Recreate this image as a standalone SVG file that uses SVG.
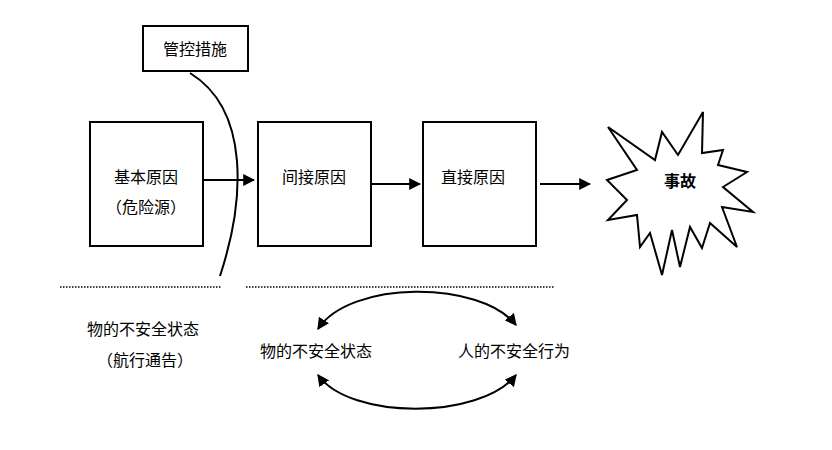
<svg xmlns="http://www.w3.org/2000/svg" width="832" height="450" viewBox="0 0 832 450">
<style>
text{font-family:"Liberation Sans","Noto Sans CJK SC",sans-serif;font-size:16px;fill:#000}
.b{fill:#fff;stroke:#000;stroke-width:2}
.l{fill:none;stroke:#000;stroke-width:2}
.d{fill:none;stroke:#000;stroke-width:1.5;stroke-dasharray:1.5 1.5}
</style>
<defs><marker id="a" viewBox="0 0 10 10" refX="9" refY="5" markerWidth="6" markerHeight="6" orient="auto-start-reverse"><path d="M0,0L10,5L0,10z"/></marker></defs>
<rect width="832" height="450" fill="#fff"/>
<g id="n1"><rect class="b" x="143" y="26" width="105" height="45"/><text x="195" y="55" text-anchor="middle">管控措施</text></g>
<g id="n2"><rect class="b" x="90" y="122" width="113" height="124"/><text x="146" y="183" text-anchor="middle">基本原因</text><text x="146" y="213" text-anchor="middle">（危险源）</text></g>
<g id="n3"><rect class="b" x="258" y="122" width="113" height="124"/><text x="314" y="183" text-anchor="middle">间接原因</text></g>
<g id="n4"><rect class="b" x="423" y="122" width="113" height="124"/><text x="473" y="183" text-anchor="middle">直接原因</text></g>
<g id="n5"><polygon class="b" points="608,127 655,160 662,132 678,155 703,112 702,153 723,150 718,165 747,172 723,187 753,212 722,207 737,247 710,223 702,248 690,227 680,267 672,230 662,275 650,233 640,247 637,215 608,220 627,200 607,180 637,170"/><text x="680" y="187" text-anchor="middle" font-weight="bold" font-size="20">事故</text></g>
<g id="labels">
<text x="143" y="335" text-anchor="middle">物的不安全状态</text>
<text x="145" y="366" text-anchor="middle">（航行通告）</text>
<text x="316" y="357" text-anchor="middle">物的不安全状态</text>
<text x="514" y="357" text-anchor="middle">人的不安全行为</text>
</g>
<g id="connectors">
<path class="l" d="M190,73 C250,110 245,200 220,276"/>
<line class="l" x1="204" y1="180" x2="254" y2="180" marker-end="url(#a)"/>
<line class="l" x1="372" y1="184" x2="420" y2="184" marker-end="url(#a)"/>
<line class="l" x1="540" y1="184" x2="590" y2="184" marker-end="url(#a)"/>
<line class="d" x1="60" y1="287" x2="222" y2="287"/>
<line class="d" x1="246" y1="287" x2="555" y2="287"/>
<path class="l" d="M318,329 C350,280 480,280 516,325" marker-start="url(#a)" marker-end="url(#a)"/>
<path class="l" d="M318,375 C350,420 480,420 516,375" marker-start="url(#a)" marker-end="url(#a)"/>
</g>
</svg>
